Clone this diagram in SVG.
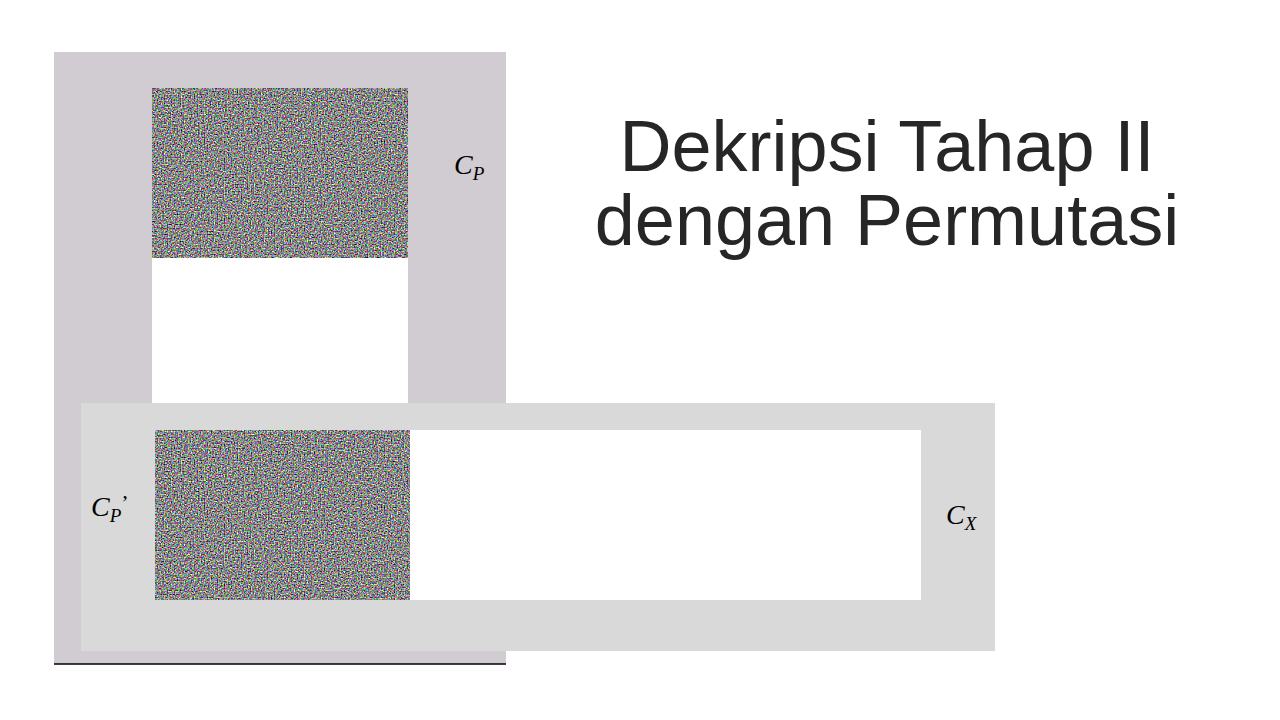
<svg xmlns="http://www.w3.org/2000/svg" width="1280" height="720" viewBox="0 0 1280 720">
<defs>
<filter id="noise" x="0" y="0" width="100%" height="100%" filterUnits="objectBoundingBox" color-interpolation-filters="sRGB">
<feTurbulence type="fractalNoise" baseFrequency="0.7" numOctaves="1" seed="3" result="t"/>
<feComponentTransfer in="t">
<feFuncR type="linear" slope="2.3" intercept="-0.62"/>
<feFuncG type="linear" slope="2.3" intercept="-0.62"/>
<feFuncB type="linear" slope="2.3" intercept="-0.62"/>
<feFuncA type="linear" slope="0" intercept="1"/>
</feComponentTransfer>
</filter>
<style>
.lbl{font-family:"Liberation Serif","DejaVu Serif",serif;font-style:italic;fill:#000}
.title{font-family:"Liberation Sans",Arial,sans-serif;font-size:72px;fill:#262626;text-anchor:middle}
</style>
</defs>
<rect width="1280" height="720" fill="#ffffff"/>
<g id="cp-panel">
<rect x="54" y="52" width="452" height="612" fill="#d0ccd1"/>
<line x1="54" y1="664" x2="506" y2="664" stroke="#000" stroke-width="1.5"/>
<rect x="152" y="258" width="256" height="145" fill="#ffffff"/>
<rect x="152" y="88" width="256" height="170" fill="#888" filter="url(#noise)"/>
<text class="lbl" x="454" y="174" font-size="28">C<tspan font-size="19" dy="6">P</tspan></text>
</g>
<g id="cx-panel">
<rect x="81" y="403" width="914" height="248" fill="#d9d9d9"/>
<rect x="410" y="430" width="511" height="170" fill="#ffffff"/>
<rect x="155" y="430" width="255" height="170" fill="#888" filter="url(#noise)"/>
<text class="lbl" x="91" y="516" font-size="28">C<tspan font-size="19" dy="6">P</tspan><tspan font-size="22" dy="-12" font-style="normal">’</tspan></text>
<text class="lbl" x="946" y="524" font-size="28">C<tspan font-size="19" dy="6">X</tspan></text>
</g>
<g id="title">
<text class="title" x="887" y="171">Dekripsi Tahap II</text>
<text class="title" x="887" y="245">dengan Permutasi</text>
</g>
<g id="connectors"/>
</svg>
